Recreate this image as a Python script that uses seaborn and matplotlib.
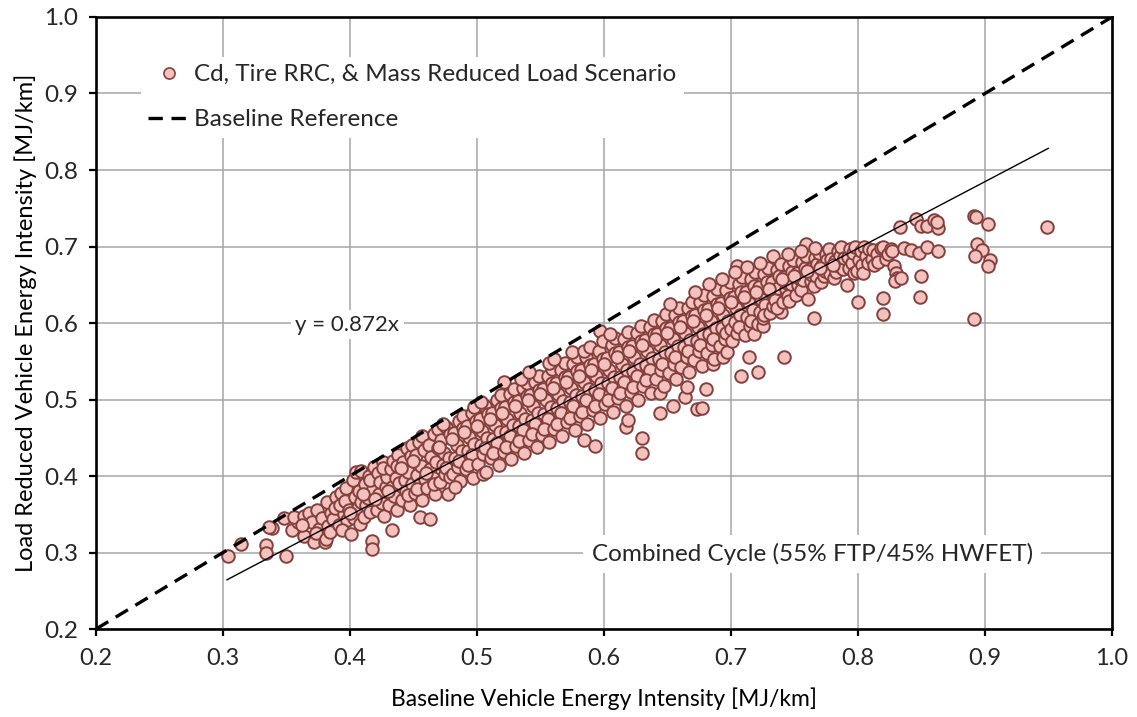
import matplotlib
matplotlib.use("Agg")
import matplotlib.pyplot as plt
from matplotlib.lines import Line2D
import seaborn as sns
import pandas as pd

# ---------------- data ----------------
baseline_x = [
    0.304, 0.314, 0.334, 0.334, 0.339, 0.336, 0.348, 0.350, 0.354, 0.359, 0.356, 0.364, 0.364, 0.368, 0.372, 0.370,
    0.374, 0.376, 0.378, 0.380, 0.362, 0.373,
    0.381, 0.383, 0.385, 0.382, 0.387, 0.389, 0.384, 0.388,
    0.391, 0.393, 0.395, 0.392, 0.397, 0.398, 0.394, 0.396, 0.399,
    0.401, 0.402, 0.404, 0.403, 0.406, 0.405, 0.408, 0.407, 0.409, 0.400, 0.409,
    0.411, 0.412, 0.413, 0.415, 0.414, 0.416, 0.417, 0.417, 0.418, 0.419, 0.410, 0.416,
    0.421, 0.422, 0.423, 0.424, 0.425, 0.426, 0.427, 0.428, 0.429, 0.420, 0.426,
    0.431, 0.432, 0.433, 0.433, 0.434, 0.435, 0.436, 0.437, 0.438, 0.439, 0.430, 0.437,
    0.441, 0.442, 0.443, 0.444, 0.445, 0.446, 0.447, 0.448, 0.449, 0.440, 0.446, 0.449,
    0.451, 0.452, 0.453, 0.454, 0.455, 0.455, 0.456, 0.457, 0.458, 0.459, 0.450, 0.457, 0.453,
    0.461, 0.463, 0.462, 0.463, 0.464, 0.465, 0.466, 0.467, 0.468, 0.469, 0.460, 0.466, 0.469,
    0.471, 0.472, 0.473, 0.474, 0.475, 0.476, 0.477, 0.478, 0.479, 0.470, 0.476, 0.479, 0.473,
    0.481, 0.482, 0.483, 0.484, 0.485, 0.486, 0.487, 0.488, 0.489, 0.480, 0.486, 0.489, 0.483,
    0.491, 0.492, 0.493, 0.494, 0.495, 0.496, 0.497, 0.498, 0.499, 0.490, 0.496, 0.499, 0.493,
    0.501, 0.502, 0.503, 0.504, 0.505, 0.505, 0.506, 0.507, 0.508, 0.509, 0.500, 0.506, 0.498, 0.503,
    0.511, 0.512, 0.513, 0.514, 0.515, 0.516, 0.517, 0.518, 0.519, 0.510, 0.516, 0.519, 0.513,
    0.521, 0.522, 0.523, 0.524, 0.521, 0.525, 0.526, 0.527, 0.528, 0.529, 0.520, 0.526, 0.529, 0.523,
    0.531, 0.532, 0.533, 0.534, 0.535, 0.536, 0.537, 0.538, 0.539, 0.530, 0.536, 0.539, 0.533, 0.535,
    0.541, 0.542, 0.543, 0.544, 0.545, 0.546, 0.547, 0.548, 0.549, 0.540, 0.546, 0.549, 0.543, 0.541,
    0.551, 0.552, 0.553, 0.554, 0.555, 0.556, 0.557, 0.558, 0.559, 0.550, 0.556, 0.559, 0.553, 0.557,
    0.561, 0.562, 0.563, 0.564, 0.565, 0.566, 0.567, 0.568, 0.569, 0.560, 0.566, 0.569, 0.563, 0.561,
    0.571, 0.572, 0.573, 0.574, 0.575, 0.576, 0.577, 0.578, 0.579, 0.570, 0.576, 0.579, 0.573, 0.575,
    0.581, 0.582, 0.583, 0.584, 0.584, 0.585, 0.586, 0.587, 0.588, 0.589, 0.580, 0.586, 0.584, 0.583, 0.589,
    0.591, 0.592, 0.593, 0.593, 0.594, 0.595, 0.596, 0.597, 0.598, 0.599, 0.590, 0.596, 0.597, 0.593, 0.599,
    0.601, 0.602, 0.603, 0.604, 0.605, 0.606, 0.607, 0.608, 0.609, 0.600, 0.606, 0.609, 0.603, 0.605,
    0.611, 0.612, 0.613, 0.614, 0.615, 0.616, 0.617, 0.617, 0.618, 0.619, 0.619, 0.610, 0.616, 0.619, 0.613,
    0.621, 0.622, 0.623, 0.624, 0.625, 0.626, 0.627, 0.628, 0.629, 0.620, 0.626, 0.629, 0.623,
    0.630, 0.630, 0.631, 0.632, 0.633, 0.634, 0.635, 0.636, 0.637, 0.638, 0.639, 0.630, 0.636, 0.639, 0.633,
    0.641, 0.642, 0.643, 0.644, 0.644, 0.644, 0.645, 0.646, 0.647, 0.648, 0.649, 0.640, 0.646, 0.649,
    0.651, 0.652, 0.653, 0.654, 0.654, 0.655, 0.656, 0.657, 0.658, 0.659, 0.650, 0.656, 0.659, 0.652,
    0.661, 0.662, 0.663, 0.664, 0.664, 0.665, 0.665, 0.666, 0.667, 0.668, 0.669, 0.660, 0.666, 0.669,
    0.671, 0.672, 0.673, 0.673, 0.674, 0.675, 0.676, 0.677, 0.678, 0.679, 0.670, 0.676, 0.679, 0.672,
    0.680, 0.677, 0.681, 0.682, 0.683, 0.684, 0.685, 0.686, 0.686, 0.687, 0.688, 0.689, 0.680, 0.686, 0.689, 0.683,
    0.691, 0.692, 0.693, 0.694, 0.694, 0.695, 0.696, 0.697, 0.698, 0.699, 0.690, 0.696, 0.699, 0.693,
    0.700, 0.701, 0.702, 0.703, 0.704, 0.705, 0.705, 0.706, 0.707, 0.708, 0.708, 0.709, 0.700, 0.706, 0.703,
    0.711, 0.712, 0.713, 0.714, 0.714, 0.715, 0.716, 0.717, 0.718, 0.718, 0.719, 0.710, 0.716, 0.713,
    0.721, 0.721, 0.722, 0.723, 0.724, 0.725, 0.725, 0.726, 0.727, 0.728, 0.729, 0.720, 0.726, 0.723,
    0.731, 0.732, 0.733, 0.733, 0.734, 0.735, 0.736, 0.737, 0.738, 0.739, 0.739, 0.730, 0.736,
    0.741, 0.742, 0.742, 0.743, 0.744, 0.745, 0.746, 0.746, 0.747, 0.748, 0.749, 0.740, 0.745,
    0.751, 0.752, 0.753, 0.754, 0.755, 0.756, 0.757, 0.758, 0.759, 0.759, 0.750, 0.755,
    0.761, 0.762, 0.763, 0.764, 0.765, 0.765, 0.766, 0.767, 0.768, 0.769, 0.760, 0.766,
    0.771, 0.772, 0.773, 0.774, 0.775, 0.776, 0.777, 0.778, 0.779, 0.770,
    0.781, 0.782, 0.783, 0.784, 0.785, 0.786, 0.787, 0.788, 0.789, 0.780,
    0.791, 0.792, 0.793, 0.794, 0.795, 0.796, 0.797, 0.798, 0.799,
    0.800, 0.801, 0.802, 0.803, 0.804, 0.805, 0.806, 0.808, 0.809,
    0.811, 0.812, 0.813, 0.815, 0.816, 0.818,
    0.820, 0.820, 0.820, 0.822, 0.824, 0.826, 0.827, 0.828,
    0.830, 0.831, 0.829, 0.833, 0.834, 0.836,
    0.842, 0.846, 0.848, 0.850, 0.850, 0.849, 0.854, 0.854, 0.860, 0.863, 0.863, 0.862,
    0.891, 0.893, 0.894, 0.898, 0.892, 0.904, 0.902, 0.902, 0.891, 0.949,
]

reduced_y = [
    0.296, 0.311, 0.310, 0.299, 0.332, 0.334, 0.345, 0.296, 0.330, 0.340, 0.347, 0.348, 0.321, 0.352, 0.314, 0.340,
    0.356, 0.331, 0.345, 0.314, 0.336, 0.326,
    0.318, 0.335, 0.352, 0.366, 0.344, 0.372, 0.327, 0.358,
    0.336, 0.378, 0.350, 0.362, 0.384, 0.343, 0.329, 0.367, 0.356,
    0.324, 0.395, 0.372, 0.345, 0.358, 0.405, 0.337, 0.381, 0.366, 0.352, 0.407,
    0.346, 0.389, 0.362, 0.400, 0.371, 0.353, 0.315, 0.304, 0.383, 0.412, 0.377, 0.395,
    0.355, 0.404, 0.377, 0.392, 0.365, 0.418, 0.348, 0.385, 0.399, 0.370, 0.411,
    0.362, 0.409, 0.330, 0.386, 0.420, 0.374, 0.398, 0.356, 0.427, 0.391, 0.381, 0.413,
    0.369, 0.418, 0.395, 0.381, 0.436, 0.405, 0.362, 0.426, 0.389, 0.410, 0.375, 0.441,
    0.378, 0.427, 0.401, 0.445, 0.346, 0.389, 0.413, 0.368, 0.434, 0.396, 0.420, 0.452, 0.383,
    0.384, 0.344, 0.441, 0.409, 0.425, 0.397, 0.455, 0.376, 0.418, 0.437, 0.404, 0.389, 0.461,
    0.392, 0.447, 0.415, 0.430, 0.403, 0.464, 0.376, 0.423, 0.455, 0.438, 0.410, 0.399, 0.468,
    0.402, 0.456, 0.424, 0.441, 0.412, 0.472, 0.394, 0.433, 0.463, 0.448, 0.419, 0.478, 0.386,
    0.409, 0.466, 0.433, 0.451, 0.420, 0.483, 0.398, 0.442, 0.472, 0.457, 0.428, 0.490, 0.415,
    0.416, 0.474, 0.441, 0.459, 0.403, 0.429, 0.491, 0.405, 0.450, 0.481, 0.466, 0.436, 0.490, 0.497,
    0.424, 0.482, 0.449, 0.467, 0.437, 0.499, 0.414, 0.458, 0.489, 0.475, 0.443, 0.506, 0.430,
    0.431, 0.490, 0.458, 0.475, 0.523, 0.445, 0.507, 0.422, 0.467, 0.497, 0.483, 0.452, 0.514, 0.438,
    0.439, 0.498, 0.465, 0.483, 0.452, 0.515, 0.430, 0.474, 0.505, 0.491, 0.460, 0.522, 0.446, 0.527,
    0.447, 0.506, 0.473, 0.491, 0.460, 0.523, 0.438, 0.482, 0.513, 0.499, 0.468, 0.531, 0.455, 0.536,
    0.454, 0.514, 0.481, 0.499, 0.467, 0.531, 0.445, 0.490, 0.521, 0.507, 0.475, 0.540, 0.461, 0.548,
    0.462, 0.522, 0.489, 0.507, 0.475, 0.539, 0.452, 0.498, 0.529, 0.515, 0.483, 0.548, 0.468, 0.553,
    0.470, 0.530, 0.497, 0.515, 0.483, 0.547, 0.460, 0.506, 0.537, 0.523, 0.491, 0.556, 0.476, 0.562,
    0.478, 0.538, 0.505, 0.523, 0.447, 0.491, 0.555, 0.468, 0.514, 0.545, 0.531, 0.499, 0.563, 0.484, 0.568,
    0.486, 0.546, 0.439, 0.513, 0.531, 0.499, 0.563, 0.476, 0.522, 0.553, 0.539, 0.507, 0.590, 0.492, 0.576,
    0.494, 0.554, 0.521, 0.539, 0.507, 0.571, 0.484, 0.530, 0.561, 0.547, 0.515, 0.580, 0.500, 0.586,
    0.502, 0.562, 0.529, 0.547, 0.515, 0.579, 0.464, 0.492, 0.538, 0.473, 0.569, 0.555, 0.523, 0.588, 0.509,
    0.510, 0.570, 0.537, 0.555, 0.523, 0.587, 0.500, 0.546, 0.577, 0.563, 0.531, 0.596, 0.517,
    0.450, 0.430, 0.518, 0.578, 0.545, 0.563, 0.531, 0.595, 0.508, 0.554, 0.585, 0.571, 0.539, 0.604, 0.525,
    0.527, 0.586, 0.553, 0.482, 0.508, 0.571, 0.539, 0.603, 0.518, 0.562, 0.593, 0.579, 0.547, 0.612,
    0.535, 0.594, 0.561, 0.491, 0.579, 0.547, 0.611, 0.527, 0.570, 0.601, 0.587, 0.555, 0.620, 0.625,
    0.543, 0.602, 0.569, 0.503, 0.587, 0.517, 0.555, 0.619, 0.536, 0.578, 0.609, 0.595, 0.563, 0.628,
    0.552, 0.610, 0.488, 0.577, 0.595, 0.563, 0.627, 0.544, 0.586, 0.617, 0.603, 0.571, 0.636, 0.641,
    0.514, 0.489, 0.561, 0.618, 0.585, 0.603, 0.571, 0.547, 0.635, 0.553, 0.594, 0.625, 0.611, 0.579, 0.645, 0.651,
    0.570, 0.626, 0.593, 0.555, 0.611, 0.579, 0.643, 0.562, 0.602, 0.633, 0.619, 0.587, 0.653, 0.658,
    0.592, 0.577, 0.634, 0.601, 0.619, 0.674, 0.587, 0.651, 0.610, 0.531, 0.641, 0.660, 0.627, 0.595, 0.667,
    0.584, 0.641, 0.608, 0.555, 0.626, 0.596, 0.658, 0.617, 0.586, 0.648, 0.667, 0.634, 0.603, 0.673,
    0.536, 0.599, 0.647, 0.615, 0.632, 0.596, 0.607, 0.664, 0.623, 0.654, 0.672, 0.640, 0.611, 0.679,
    0.613, 0.653, 0.688, 0.622, 0.638, 0.630, 0.669, 0.646, 0.661, 0.614, 0.677, 0.645, 0.619,
    0.628, 0.555, 0.660, 0.644, 0.652, 0.635, 0.629, 0.675, 0.651, 0.667, 0.683, 0.657, 0.690,
    0.636, 0.666, 0.650, 0.658, 0.643, 0.680, 0.656, 0.672, 0.703, 0.687, 0.662, 0.694,
    0.631, 0.671, 0.655, 0.663, 0.606, 0.648, 0.685, 0.661, 0.677, 0.692, 0.668, 0.698,
    0.653, 0.676, 0.661, 0.668, 0.690, 0.682, 0.697, 0.664, 0.684, 0.672,
    0.659, 0.681, 0.667, 0.694, 0.674, 0.688, 0.699, 0.670, 0.685, 0.676,
    0.650, 0.686, 0.672, 0.697, 0.679, 0.691, 0.665, 0.700, 0.668,
    0.627, 0.683, 0.694, 0.676, 0.666, 0.699, 0.688, 0.679, 0.697,
    0.684, 0.695, 0.676, 0.690, 0.680, 0.698,
    0.612, 0.633, 0.700, 0.684, 0.690, 0.697, 0.694, 0.675,
    0.666, 0.659, 0.655, 0.725, 0.659, 0.698,
    0.696, 0.736, 0.692, 0.727, 0.662, 0.634, 0.700, 0.727, 0.735, 0.724, 0.694, 0.732,
    0.740, 0.738, 0.703, 0.696, 0.688, 0.683, 0.675, 0.729, 0.605, 0.725,
]

fit_slope = 0.872
fit_x_range = [0.303, 0.950]
reference_range = [0.2, 1.0]

series_label = "Cd, Tire RRC, & Mass Reduced Load Scenario"
reference_label = "Baseline Reference"
fit_label = "y = 0.872x"
cycle_label = "Combined Cycle (55% FTP/45% HWFET)"
x_title = "Baseline Vehicle Energy Intensity [MJ/km]"
y_title = "Load Reduced Vehicle Energy Intensity [MJ/km]"
tick_values = [0.2, 0.3, 0.4, 0.5, 0.6, 0.7, 0.8, 0.9, 1.0]

# ---------------- styling ----------------
sns.set_theme(style="whitegrid")
plt.rcParams['font.family'] = ['Lato', 'DejaVu Sans']

fill_col = "#f3c1be"
edge_col = "#84403d"
grid_col = "#a6a6a6"
dash_style = (0, (4.3, 2.6))

fig, ax = plt.subplots(figsize=(11.37, 7.17), dpi=100)
fig.subplots_adjust(left=0.0844, right=0.978, bottom=0.1227, top=0.9763)

df = pd.DataFrame({"baseline": baseline_x, "reduced": reduced_y})
sns.scatterplot(data=df, x="baseline", y="reduced", ax=ax, s=82,
                color=fill_col, edgecolor=edge_col, linewidth=1.4,
                zorder=3, legend=False)

# baseline reference y = x
ref_df = pd.DataFrame({"x": reference_range, "y": reference_range})
sns.lineplot(data=ref_df, x="x", y="y", ax=ax, color="black", lw=2.4,
             linestyle=dash_style, zorder=4, legend=False)

# fit line
fit_df = pd.DataFrame({"x": fit_x_range, "y": [fit_slope * v for v in fit_x_range]})
sns.lineplot(data=fit_df, x="x", y="y", ax=ax, color="black", lw=1.0,
             zorder=4, legend=False)

ax.set_xlim(0.2, 1.0)
ax.set_ylim(0.2, 1.0)
ax.set_xticks(tick_values)
ax.set_yticks(tick_values)
ax.set_xticklabels([f"{v:.1f}" for v in tick_values])
ax.set_yticklabels([f"{v:.1f}" for v in tick_values])

ax.grid(True, color=grid_col, lw=1.1, zorder=0)
ax.set_axisbelow(True)
for sp in ax.spines.values():
    sp.set_visible(True)
    sp.set_color("black")
    sp.set_linewidth(1.9)

ax.tick_params(axis="x", direction="out", length=5, width=1.6,
               color="black", labelsize=17, pad=9, bottom=True)
ax.tick_params(axis="y", direction="out", length=5, width=1.6,
               color="black", labelsize=17.5, pad=8, left=True)
ax.set_xlabel(x_title, fontsize=16.5, labelpad=13, color="black")
ax.set_ylabel(y_title, fontsize=17, labelpad=5, color="black")

ax.text(0.398, 0.598, fit_label, fontsize=16, ha="center", va="center",
        zorder=5, bbox=dict(facecolor="white", edgecolor="none", pad=3))
ax.text(0.764, 0.298, cycle_label, fontsize=17.5, ha="center", va="center",
        zorder=5, bbox=dict(facecolor="white", edgecolor="none", pad=6))

handles = [
    Line2D([], [], marker="o", linestyle="none", markersize=8,
           markerfacecolor=fill_col, markeredgecolor=edge_col, markeredgewidth=1.2),
    Line2D([], [], color="black", lw=2.4, linestyle=dash_style),
]
leg = ax.legend(handles, [series_label, reference_label], loc="upper left",
                bbox_to_anchor=(0.044, 0.935), frameon=True, fontsize=17.5,
                handlelength=1.75, handletextpad=0.15, labelspacing=1.0,
                borderpad=0.3, borderaxespad=0)
leg.get_frame().set_facecolor("white")
leg.get_frame().set_edgecolor("none")
leg.get_frame().set_alpha(1.0)
leg.set_zorder(6)

fig.savefig("out.png", dpi=100)
